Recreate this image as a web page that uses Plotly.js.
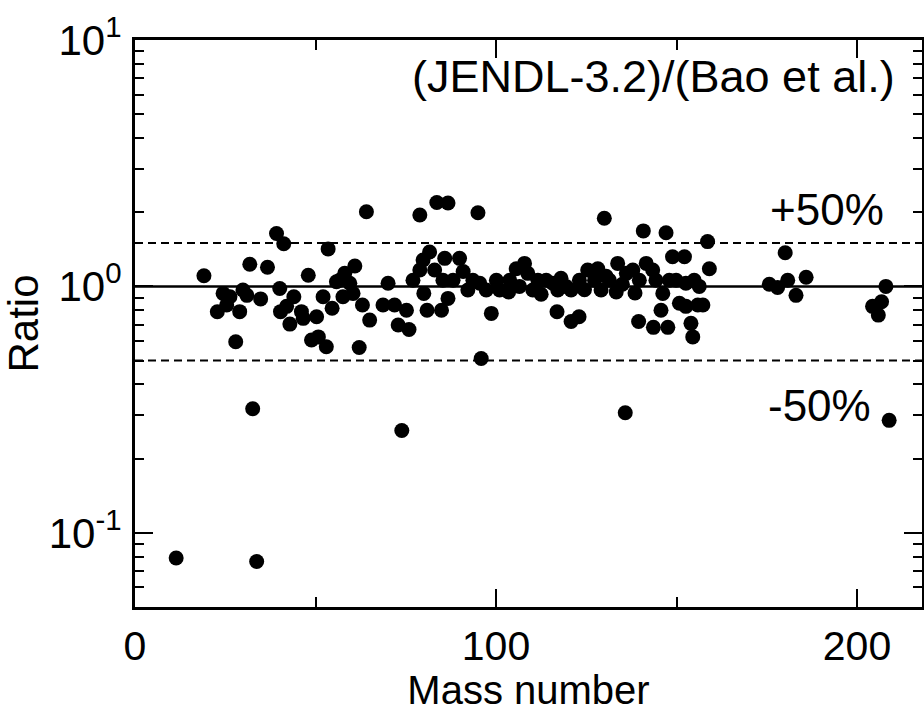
<!DOCTYPE html>
<html>
<head>
<meta charset="utf-8">
<script src="https://cdn.plot.ly/plotly-3.0.1.min.js"></script>
<style>html,body{margin:0;padding:0;background:#fff;overflow:hidden}</style>
</head>
<body>
<div id="chart" style="width:924px;height:712px"></div>
<script>
// Mass number of each nuclide
const massNumber = [
  19.1,22.8,24.4,25.4,26.3,27.9,29.0,29.9,31.0,31.8,34.8,36.7,39.2,40.1,40.3,41.2,42.0,42.9,44.0,46.1,
  46.6,48.0,48.9,50.3,50.8,52.1,53.0,53.5,54.6,
  64.1,78.9,83.6,86.7,95.0,60.9,58.1,56.7,55.8,59.5,60.4,57.6,62.1,63.0,65.0,70.1,68.7,71.9,75.2,72.9,
  75.9,77.0,78.9,79.8,81.6,83.0,80.0,80.9,84.9,86.7,85.8,89.9,85.3,88.1,90.9,92.2,93.6,95.5,97.3,98.7,
  95.9,101.0,100.1,103.8,105.6,
  130.0,140.8,147.1,107.9,108.8,110.2,111.6,113.9,115.7,117.1,119.4,120.8,123.1,125.4,128.2,127.3,129.1,
  131.4,133.7,133.3,136.1,137.9,139.7,141.6,143.4,144.3,146.2,148.9,152.2,148.0,149.9,152.6,154.9,150.8,
  152.6,155.9,145.7,116.9,120.8,123.0,139.5,143.6,147.6,154.0,154.5,
  103.5,112.5,124.5,130.5,138.5,106.5,118.0,135.0,
  158.6,159.1,156.3,157.3,180.1,175.7,178.0,180.8,183.1,185.9,208.0,204.3,206.8,205.9,
  32.6,73.9,135.8,208.9,11.4,33.7
];
// Ratio JENDL-3.2 / Bao et al.
const ratio = [
  1.105,0.789,0.937,0.84,0.908,0.596,0.79,0.967,0.92,1.23,0.89,1.196,1.64,0.98,0.79,1.49,0.83,0.703,0.908,0.79,
  0.742,1.11,0.606,0.753,0.624,0.908,0.569,1.42,0.815,
  2.01,1.95,2.19,2.18,1.99,1.21,1.13,1.06,1.045,1.03,0.937,0.908,0.565,0.84,0.73,1.03,0.84,0.84,0.80,0.697,
  0.669,1.06,1.166,1.28,1.38,1.166,0.937,0.80,0.80,0.894,1.30,1.30,1.06,1.06,1.15,0.967,1.06,1.03,0.967,0.777,
  0.51,0.967,1.06,1.06,1.18,
  1.89,1.68,1.65,1.24,1.13,0.967,1.06,1.06,1.03,0.967,1.0,0.967,1.06,1.166,1.18,1.06,0.967,
  1.06,1.24,0.95,1.13,1.166,1.06,1.24,1.166,1.06,0.937,1.32,1.32,1.06,1.06,1.03,1.06,0.854,
  0.83,0.84,0.80,0.789,0.72,0.753,0.72,0.682,0.682,0.708,0.624,
  0.95,0.93,0.97,1.1,0.94,1.0,1.08,1.02,
  1.52,1.18,1.0,0.84,1.37,1.02,0.99,1.06,0.92,1.09,1.0,0.83,0.866,0.765,
  0.319,0.26,0.307,0.286,0.079,0.0765
];
// Reference lines
const refX = [0, 220];
const unityY = [1, 1];
const plus50Y = [1.5, 1.5];
const minus50Y = [0.5, 0.5];
// Axis ticks
const xTickVals = [0, 100, 200];
const xTickText = ['0', '100', '200'];
const xMinorVals = [50, 150];
const yTickVals = [0.1, 1, 10];
const yTickText = ['10<sup>-1</sup>', '10<sup>0</sup>', '10<sup>1</sup>'];
const yMinorVals = [0.06,0.07,0.08,0.09,0.2,0.3,0.4,0.5,0.6,0.7,0.8,0.9,2,3,4,5,6,7,8,9];

const FONT = '"Liberation Sans", Arial, Helvetica, sans-serif';

const traces = [
  {x: refX, y: unityY, mode: 'lines', line: {color: 'black', width: 2.5}, hoverinfo: 'skip'},
  {x: refX, y: plus50Y, mode: 'lines', line: {color: 'black', width: 2, dash: '8px,5px'}, hoverinfo: 'skip'},
  {x: refX, y: minus50Y, mode: 'lines', line: {color: 'black', width: 2, dash: '8px,5px'}, hoverinfo: 'skip'},
  {x: massNumber, y: ratio, mode: 'markers', marker: {color: 'black', size: 15}, cliponaxis: true}
];

const axisCommon = {
  showline: true, linecolor: 'black', linewidth: 3, mirror: 'ticks',
  ticks: 'inside', ticklen: 18, tickwidth: 2, tickcolor: 'black',
  showgrid: false, zeroline: false,
  tickfont: {family: FONT, size: 42, color: 'black'}
};

const layout = {
  width: 924, height: 712,
  margin: {l: 135, r: 2, t: 40, b: 105},
  paper_bgcolor: 'white', plot_bgcolor: 'white',
  showlegend: false,
  font: {family: FONT, color: 'black'},
  xaxis: Object.assign({}, axisCommon, {
    range: [0, 218],
    tickmode: 'array', tickvals: xTickVals, ticktext: xTickText,
    tickfont: {family: FONT, size: 41, color: 'black'},
    minor: {tickmode: 'array', tickvals: xMinorVals, ticks: 'inside', ticklen: 10, tickwidth: 2, tickcolor: 'black'},
    ticklabelstandoff: 1,
    title: {text: 'Mass number', font: {family: FONT, size: 40, color: 'black'}, standoff: 16}
  }),
  yaxis: Object.assign({}, axisCommon, {
    type: 'log',
    range: [Math.log10(0.05), 1],
    tickmode: 'array', tickvals: yTickVals, ticktext: yTickText,
    minor: {tickmode: 'array', tickvals: yMinorVals, ticks: 'inside', ticklen: 9, tickwidth: 2, tickcolor: 'black'},
    ticklabelstandoff: 2,
    title: {text: 'Ratio', font: {family: FONT, size: 42, color: 'black'}, standoff: 0}
  }),
  annotations: [
    {text: '(JENDL-3.2)/(Bao et al.)', xref: 'x', yref: 'y', x: 211, y: Math.log10(7.1),
     xanchor: 'right', yanchor: 'middle', showarrow: false, font: {family: FONT, size: 45, color: 'black'}},
    {text: '+50%', xref: 'x', yref: 'y', x: 191.8, y: Math.log10(2.06),
     xanchor: 'center', yanchor: 'middle', showarrow: false, font: {family: FONT, size: 44, color: 'black'}},
    {text: '-50%', xref: 'x', yref: 'y', x: 189.5, y: Math.log10(0.33),
     xanchor: 'center', yanchor: 'middle', showarrow: false, font: {family: FONT, size: 44, color: 'black'}}
  ]
};

Plotly.newPlot('chart', traces, layout, {displayModeBar: false, staticPlot: true});
</script>
</body>
</html>
